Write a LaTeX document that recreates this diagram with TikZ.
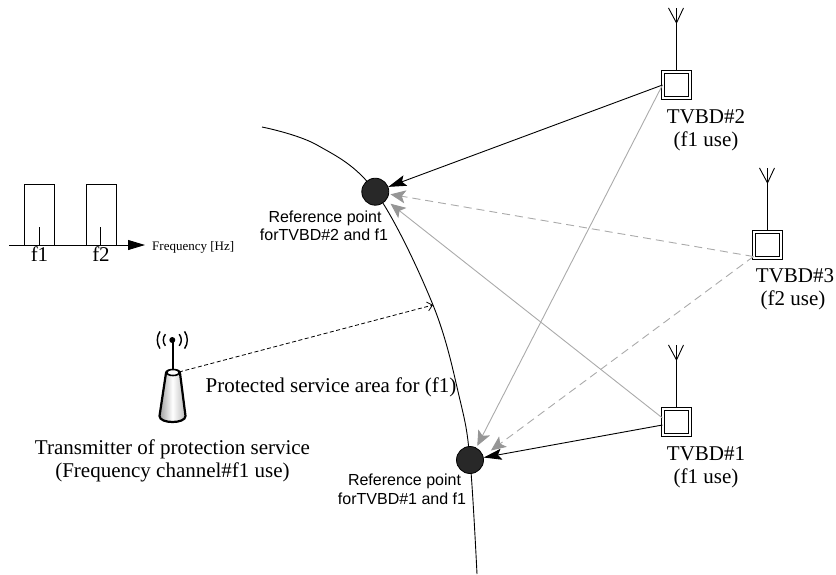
\documentclass[tikz,border=0pt]{standalone}
\usepackage{fontspec}
\setmainfont{Liberation Serif}
\newfontfamily\sansf{Liberation Sans}
\usetikzlibrary{arrows.meta,calc}
\definecolor{lgray}{RGB}{170,170,170}
\definecolor{agray}{RGB}{150,150,150}
\definecolor{dotfill}{RGB}{40,40,40}
\tikzset{
  serif/.style={font=\fontsize{21}{24}\selectfont, inner sep=0, anchor=base},
  sanslbl/.style={font=\sansf\fontsize{16}{18}\selectfont, inner sep=0, anchor=base},
  smalllbl/.style={font=\fontsize{13}{15}\selectfont, inner sep=0, anchor=base west},
  tvbox/.style={draw, line width=0.9pt, double=white, double distance=2pt,
    minimum width=27.2pt, minimum height=26.2pt, inner sep=0},
  antline/.style={line width=0.9pt},
  antenna/.pic={
    \draw[antline] (0,0) -- (0,-62);
    \draw[antline] (-8,-62) -- (0,-47) -- (7,-62);
  },
  refpt/.style={circle, draw, line width=0.8pt, fill=dotfill, minimum size=27pt, inner sep=0},
  blackarrow/.style={line width=0.9pt, -{Stealth[length=18pt,width=11pt,inset=3.5pt]}},
  grayarrow/.style={draw=lgray, line width=0.9pt, -{Stealth[length=15pt,width=13pt,inset=3.5pt,color=agray]}},
  graydash/.style={grayarrow, dash pattern=on 8pt off 5pt},
  txarrow/.style={line width=0.8pt, dash pattern=on 4pt off 2.5pt, -{Straight Barb[length=5pt,width=9pt]}},
  thinline/.style={line width=0.9pt},
  wave/.style={line width=1.4pt},
}
\begin{document}
\begin{tikzpicture}[x=1pt,y=-1pt]
\useasboundingbox (0,0) rectangle (836,574);

% protected service area boundary
\draw[line width=0.9pt] plot[smooth, tension=0.6] coordinates
  {(262,127) (317,145) (375.3,191.7) (433,305) (460,400) (470,460) (477,574)};

% reference points
\node[refpt] (r2) at (375.3,191.7) {};
\node[refpt] (r1) at (470,460) {};

% TVBDs
\node[tvbox] (tv2) at (676.5,85) {};
\node[tvbox] (tv3) at (767.5,245) {};
\node[tvbox] (tv1) at (676.5,422) {};
\pic at ([yshift=1.5pt]tv2.north) {antenna};
\pic at ([yshift=1.5pt]tv3.north) {antenna};
\pic at ([yshift=1.5pt]tv1.north) {antenna};

% connectors
\draw[grayarrow, shorten >=2pt] (tv2.west) -- (r1);
\draw[grayarrow, shorten >=5.5pt] ([yshift=4pt]tv1.west) -- (r2);
\draw[graydash, shorten >=1.5pt] ([yshift=-11.5pt]tv3.west) -- (r2);
\draw[graydash, shorten >=26pt] ([yshift=-11.5pt]tv3.west) -- ([yshift=-6pt]r1.center);
\draw[blackarrow] (tv2.west) -- (r2);
\draw[blackarrow] ([yshift=-3pt]tv1.west) -- (r1);

% labels
\node[serif] (t2a) at (706,123) {TVBD\#2};
\node[serif] (t2b) at (706,146.5) {(f1 use)};
\node[serif] (t3a) at (795,282) {TVBD\#3};
\node[serif] (t3b) at (793,305.5) {(f2 use)};
\node[serif] (t1a) at (706,460) {TVBD\#1};
\node[serif] (t1b) at (706,483.5) {(f1 use)};
\node[sanslbl] (l2a) at (325,222) {Reference point};
\node[sanslbl] (l2b) at (324,240) {forTVBD\#2 and f1};
\node[sanslbl] (l1a) at (404.5,485) {Reference point};
\node[sanslbl] (l1b) at (402,504) {forTVBD\#1 and f1};
\node[serif] (area) at (331,392) {Protected service area for (f1)};
\node[serif] (txa) at (172.5,454) {Transmitter of protection service};
\node[serif] (txb) at (172.5,477) {(Frequency channel\#f1 use)};

% transmitter icon
\draw[line width=2pt] (172.5,340) -- (172.5,371);
\draw[line width=2.2pt, left color=gray!75, right color=gray!55, middle color=white]
  (166,373) -- (159.5,416) .. controls (159.5,424) and (185.5,424) .. (185.5,416)
  -- (180,373) .. controls (180,369) and (166,369) .. (166,373) -- cycle;
\draw[line width=1.6pt, fill=white] (173,372.5) ellipse [x radius=6.5pt, y radius=3pt];
\node[circle, fill=black, minimum size=6pt, inner sep=0] (txdot) at (172.3,340) {};
\draw[wave] ([shift={(140:9pt)}]txdot.center) arc[start angle=140, end angle=220, radius=9pt];
\draw[wave] ([shift={(145:15pt)}]txdot.center) arc[start angle=145, end angle=215, radius=15pt];
\draw[wave] ([shift={(-40:9pt)}]txdot.center) arc[start angle=-40, end angle=40, radius=9pt];
\draw[wave] ([shift={(-35:15pt)}]txdot.center) arc[start angle=-35, end angle=35, radius=15pt];
\coordinate (txtop) at (179,372);
\coordinate (areaedge) at (433,305);
\draw[txarrow] (txtop) -- (areaedge);

% spectrum
\coordinate (axs) at (9,245);
\coordinate (axe) at (145,245);
\draw[thinline] (24,245) rectangle (54,184);
\draw[thinline] (86,245) rectangle (116,184);
\draw[thinline] (39.3,227) -- (39.3,245);
\draw[thinline] (100.5,227) -- (100.5,245);
\draw[thinline, -{Triangle[length=17pt,width=10pt]}] (axs) -- (axe);
\node[serif] (f1) at (39.5,261) {f1};
\node[serif] (f2) at (101,261) {f2};
\node[smalllbl] (freq) at (152,250) {Frequency [Hz]};
\end{tikzpicture}
\end{document}
